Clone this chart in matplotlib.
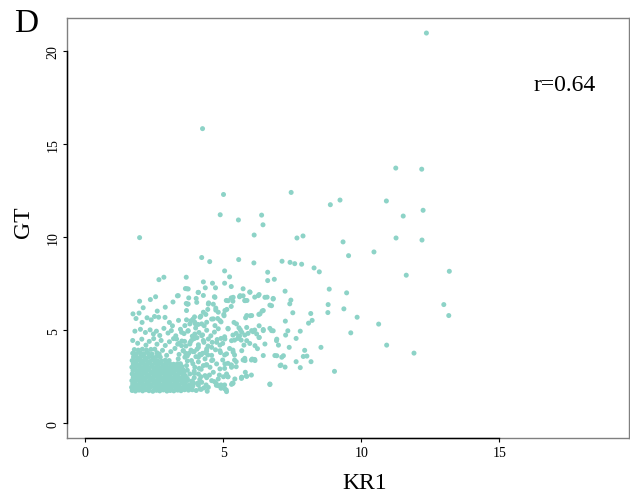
import matplotlib
matplotlib.use('Agg')
import matplotlib.pyplot as plt

# sparse points (outliers, far right / top)
kr1_sparse = [12.36, 4.25, 11.25, 12.19, 5.01, 7.46, 8.88, 9.23, 10.91, 11.52, 12.24, 4.89, 5.55,
              6.39, 6.44, 6.12, 7.67, 7.89, 1.97, 9.34, 11.26, 12.20, 10.46, 9.54, 7.84, 8.29, 8.48,
              11.63, 13.19, 8.84, 9.47, 8.80, 9.37, 12.99, 8.17, 8.79, 9.85, 13.17, 8.22, 8.09, 10.63,
              7.79, 9.62, 8.54, 10.92, 7.95, 7.90, 8.03, 8.18, 7.79, 9.03, 11.91]
gt_sparse = [20.98, 15.84, 13.72, 13.66, 12.30, 12.41, 11.75, 12.00, 11.95, 11.14, 11.45, 11.21, 10.93,
             11.19, 10.67, 10.12, 9.96, 10.07, 9.98, 9.75, 9.96, 9.85, 9.21, 9.01, 8.55, 8.35, 8.14,
             7.96, 8.17, 7.21, 7.01, 6.38, 6.15, 6.38, 5.90, 5.95, 5.70, 5.79, 5.53, 5.38, 5.33,
             4.95, 4.86, 4.08, 4.20, 3.92, 3.59, 3.61, 3.31, 2.99, 2.79, 3.77]

# middle band
kr1_mid = [4.22, 4.51, 5.56, 6.11, 7.13, 7.42, 7.59,
           2.67, 2.85, 3.66, 5.05, 5.23, 4.28, 4.61, 5.05, 6.61, 6.61, 6.85,
           1.97, 2.36, 2.55, 3.18, 3.34, 3.63, 3.68, 4.09, 4.35, 4.72, 3.75, 4.02, 3.70, 3.66,
           4.47, 4.64, 4.68, 4.28,
           5.29, 5.72, 5.96, 7.24, 5.11, 5.29, 5.35, 5.59, 5.72, 5.78, 5.86, 6.14, 6.30, 6.59,
           6.81, 6.69, 7.45, 7.41, 5.13, 5.29, 5.03, 5.39, 5.81, 5.98, 6.29, 6.41, 7.25, 7.52,
           6.30, 6.69, 5.57,
           1.73, 1.95, 1.84, 2.06, 2.24, 2.39, 2.51, 2.61, 2.66, 2.89, 3.05, 3.16, 3.38, 3.67,
           3.83, 3.96, 3.98, 4.19, 4.09, 4.31, 4.37, 4.44, 4.58, 4.73, 4.80, 4.92, 5.02, 2.10,
           2.90, 3.67, 4.73,
           6.45, 6.81, 6.30, 6.94, 7.00, 7.26, 7.34, 7.64, 7.39, 6.94, 7.18, 7.64, 7.09, 7.24,
           6.24, 6.05, 6.14, 5.80, 5.84, 5.67, 5.33, 5.11, 6.69,
           4.92, 5.05, 4.98, 5.17, 5.35, 5.41, 5.47, 5.53, 5.59, 5.65, 5.78, 5.90, 5.96, 6.08,
           6.14, 5.23, 5.35, 5.41, 5.05, 4.98, 5.17, 5.29, 5.41, 5.47, 5.78, 4.86, 5.01, 5.17,
           5.05, 5.35,
           3.64, 3.83, 4.01, 4.25, 4.44, 4.62, 4.38, 4.13, 3.95, 4.19, 4.50, 4.68, 4.38, 4.07,
           3.83, 4.74, 4.92, 5.17, 5.05, 5.29, 5.47, 5.72, 6.02, 5.66, 6.02, 5.35,
           4.42, 4.75, 4.92, 5.12, 5.30, 3.74, 3.88, 4.02, 4.20,
           1.80, 2.00, 2.18, 2.35, 2.47, 2.58, 2.70, 2.85, 3.00, 3.12, 3.28, 3.45, 3.58, 3.72,
           3.88, 4.00, 4.12, 4.25, 4.40, 4.55, 4.68, 4.82, 5.62, 5.85,
           1.72, 1.90, 2.05, 2.20, 2.32, 2.48, 2.60, 2.75, 2.90, 3.05, 3.20, 3.35, 3.50, 3.65,
           3.80, 3.95, 4.10, 4.28, 4.45, 4.60, 4.78, 4.88, 5.75, 6.30,
           2.52, 2.68, 2.80, 2.95, 3.10, 3.25, 3.40, 3.55, 3.70, 3.90, 4.05, 4.20, 4.40, 4.58,
           4.72, 4.90,
           3.58, 3.55, 3.50, 3.34, 3.62]
gt_mid = [8.91, 8.69, 8.80, 8.62, 8.71, 8.65, 8.58,
          7.72, 7.85, 7.85, 8.19, 7.87, 7.60, 7.53, 7.53, 8.12, 7.67, 7.74,
          6.56, 6.65, 6.80, 6.52, 6.85, 7.24, 7.23, 7.03, 7.28, 7.28, 6.74, 6.71, 6.40, 6.44,
          6.47, 6.40, 6.80, 6.87,
          7.35, 7.23, 7.06, 7.10, 6.60, 6.74, 6.56, 6.80, 6.85, 6.60, 6.60, 6.78, 6.92, 6.78,
          6.71, 6.35, 6.62, 6.42, 6.12, 6.28, 5.78, 5.42, 5.67, 5.78, 5.85, 6.03, 5.49, 5.94,
          5.24, 5.10, 5.13,
          5.88, 5.92, 5.63, 5.42, 5.67, 5.56, 5.74, 6.03, 5.70, 5.69, 5.42, 5.24, 5.53, 5.56,
          5.51, 5.72, 5.36, 5.76, 5.31, 5.24, 5.85, 6.12, 5.60, 6.08, 5.63, 5.45, 5.85, 6.21,
          6.24, 6.06, 6.19,
          5.04, 4.97, 4.61, 4.52, 4.20, 4.74, 4.97, 4.56, 4.08, 3.63, 3.63, 3.31, 3.13, 3.02,
          4.01, 3.45, 3.43, 2.74, 2.54, 2.47, 2.15, 1.79, 2.11,
          4.56, 4.65, 4.29, 5.10, 4.74, 4.47, 4.83, 4.56, 4.69, 4.47, 4.74, 4.83, 4.29, 4.92,
          5.01, 4.02, 3.93, 3.67, 3.67, 3.40, 3.22, 3.13, 3.40, 3.04, 3.49, 2.59, 2.50, 2.50,
          2.06, 2.15,
          3.76, 3.93, 3.58, 3.76, 3.67, 3.40, 3.13, 2.95, 2.68, 2.50, 2.59, 2.24, 2.06, 2.15,
          1.97, 2.15, 2.06, 2.50, 2.95, 3.13, 3.31, 3.40, 3.40, 2.41, 2.59, 2.15,
          1.72, 2.04, 1.88, 1.70, 2.09, 1.78, 1.80, 1.76, 1.82,
          4.95, 5.05, 4.88, 5.02, 4.80, 4.95, 4.72, 5.10, 4.85, 4.98, 4.70, 5.05, 4.82, 4.95,
          4.68, 5.12, 4.88, 4.75, 5.00, 4.70, 4.90, 5.08, 5.02, 5.15,
          4.45, 4.30, 4.52, 4.20, 4.40, 4.55, 4.25, 4.45, 4.18, 4.38, 4.55, 4.25, 4.42, 4.15,
          4.35, 4.55, 4.22, 4.45, 4.15, 4.35, 4.50, 4.20, 4.20, 4.61,
          3.98, 3.72, 3.92, 3.65, 3.85, 4.02, 3.70, 3.90, 3.62, 3.85, 3.98, 3.68, 3.88, 3.65,
          3.95, 3.80,
          2.70, 2.88, 3.05, 3.20, 2.55]

# second dense patch, right of the core (x 3.3 - 7, y 1.8 - 7)
kr1_patch = [3.37, 3.73, 4.10, 4.70, 4.46, 4.04, 3.73, 5.18, 5.36, 5.61, 5.79, 5.97, 6.27, 6.51,
             6.81, 6.75, 5.85, 6.03, 6.33, 6.45, 5.06, 4.82, 4.64, 4.28, 4.16, 3.91, 3.79, 3.61,
             3.97, 4.22, 4.40, 4.70, 4.88, 5.18, 5.48, 5.67, 6.03, 6.21, 6.45, 6.75, 6.93, 6.51,
             6.15, 5.85, 5.55, 5.30, 5.06, 4.76, 4.46, 4.22, 3.97, 3.73, 3.49, 3.31, 3.49, 3.79,
             4.10, 4.40, 4.58, 4.88, 5.12, 5.36, 5.67, 5.79, 6.15, 6.87, 7.12, 7.06, 6.45,
             3.37, 3.61, 3.85, 4.10, 4.34, 4.58, 4.76, 4.52, 4.28, 3.97, 3.67, 3.43, 3.31, 3.55,
             3.79, 4.10, 4.34, 4.64, 4.88, 5.06, 5.30, 5.12, 4.82, 4.58, 4.22, 3.91, 3.61, 3.37,
             3.49, 3.79, 4.16, 4.46, 4.82, 5.06, 5.42, 5.67, 5.85, 6.69,
             3.40, 3.60, 3.85, 4.05, 4.30, 3.55, 3.75, 3.95, 4.15, 4.35, 3.45, 3.70, 3.90, 4.10,
             4.40, 3.50, 3.70, 3.95, 4.20, 3.45, 3.70, 3.95, 4.15, 4.40, 3.60, 3.90, 4.10, 4.30]
gt_patch = [6.86, 7.22, 7.04, 6.77, 6.41, 6.50, 6.41, 6.59, 6.77, 6.86, 6.59, 7.04, 6.86, 6.77,
            6.68, 6.32, 5.79, 5.79, 5.88, 6.06, 6.06, 5.97, 5.61, 5.97, 5.70, 5.61, 5.34, 5.25,
            5.43, 5.34, 5.43, 5.25, 5.52, 5.07, 5.34, 4.89, 4.98, 4.80, 4.98, 4.98, 4.44, 4.26,
            4.17, 4.44, 4.62, 4.44, 4.53, 4.35, 4.53, 4.71, 4.80, 4.98, 4.89, 4.53, 4.17, 4.26,
            4.08, 3.99, 4.08, 3.90, 3.73, 3.82, 3.90, 3.37, 3.37, 3.64, 3.55, 3.10, 3.64,
            3.46, 3.55, 3.37, 3.55, 3.46, 3.37, 3.19, 3.01, 3.10, 3.01, 3.10, 2.92, 2.56, 2.56,
            2.65, 2.65, 2.56, 2.74, 2.92, 3.19, 3.01, 2.65, 2.38, 2.29, 2.20, 2.20, 2.11, 2.02,
            1.84, 1.84, 1.84, 1.93, 2.02, 1.84, 2.38, 2.47, 2.52, 2.08,
            4.30, 4.40, 4.45, 4.60, 4.35, 3.90, 3.75, 3.85, 3.70, 3.80, 3.20, 3.35, 3.20, 3.30,
            3.15, 2.75, 2.85, 2.80, 2.90, 2.30, 2.40, 2.45, 2.35, 2.45, 1.95, 2.00, 2.05, 1.90]

# dense core, bottom left
kr1_core = [1.70, 1.82, 1.95, 2.08, 2.19, 2.31, 2.45, 2.58, 2.70, 2.83, 2.96, 3.08, 3.21, 3.35, 3.47, 3.60,
            1.68, 1.78, 1.90, 2.02, 2.14, 2.27, 2.39, 2.52, 2.63, 2.77, 2.90, 3.02, 3.15, 3.28, 3.41, 3.55, 3.68, 3.82,
            1.72, 1.85, 1.97, 2.09, 2.22, 2.35, 2.47, 2.60, 2.72, 2.85, 2.98, 3.11, 3.24, 3.37, 3.50, 3.63, 3.78, 3.92,
            1.69, 1.80, 1.93, 2.05, 2.18, 2.30, 2.43, 2.55, 2.68, 2.80, 2.93, 3.06, 3.19, 3.31, 3.45, 3.58, 3.71, 3.86,
            1.74, 1.87, 1.99, 2.11, 2.24, 2.37, 2.49, 2.62, 2.75, 2.88, 3.00, 3.13, 3.26, 3.40, 3.53, 3.66,
            1.70, 1.83, 1.95, 2.07, 2.20, 2.33, 2.45, 2.57, 2.70, 2.83, 2.95, 3.09, 3.22, 3.35, 3.49,
            1.73, 1.86, 1.98, 2.11, 2.23, 2.36, 2.50, 2.63, 2.76, 2.89, 3.02, 3.15, 3.29, 3.42,
            1.69, 1.81, 1.94, 2.06, 2.19, 2.32, 2.44, 2.57, 2.71, 2.84, 2.97, 3.10, 3.24, 3.37,
            1.74, 1.88, 2.01, 2.14, 2.27, 2.40, 2.53, 2.66, 2.80, 2.93, 3.07, 3.20,
            1.70, 1.83, 1.96, 2.09, 2.22, 2.36, 2.49, 2.62, 2.76, 2.90, 3.04,
            1.75, 1.89, 2.02, 2.16, 2.30, 2.44, 2.58, 2.72,
            1.72, 1.85, 1.99, 2.13, 2.28, 2.42, 2.60,
            1.78, 1.92, 2.07, 2.22, 2.38]
gt_core = [1.76, 1.73, 1.78, 1.74, 1.80, 1.75, 1.72, 1.77, 1.74, 1.79, 1.73, 1.76, 1.74, 1.78, 1.75, 1.80,
           1.93, 1.90, 1.95, 1.91, 1.94, 1.89, 1.96, 1.92, 1.90, 1.95, 1.93, 1.91, 1.96, 1.90, 1.94, 1.92, 1.95, 1.91,
           2.11, 2.08, 2.13, 2.09, 2.12, 2.07, 2.14, 2.10, 2.08, 2.13, 2.11, 2.09, 2.12, 2.08, 2.14, 2.10, 2.07, 2.12,
           2.29, 2.26, 2.31, 2.27, 2.30, 2.25, 2.32, 2.28, 2.26, 2.31, 2.29, 2.27, 2.30, 2.26, 2.32, 2.28, 2.30, 2.27,
           2.47, 2.44, 2.49, 2.45, 2.48, 2.43, 2.50, 2.46, 2.44, 2.49, 2.47, 2.45, 2.48, 2.44, 2.50, 2.46,
           2.65, 2.62, 2.67, 2.63, 2.66, 2.61, 2.68, 2.64, 2.62, 2.67, 2.65, 2.63, 2.66, 2.62, 2.68,
           2.83, 2.80, 2.85, 2.81, 2.84, 2.79, 2.86, 2.82, 2.80, 2.85, 2.83, 2.81, 2.84, 2.80,
           3.01, 2.98, 3.03, 2.99, 3.02, 2.97, 3.04, 3.00, 2.98, 3.03, 3.01, 2.99, 3.02, 2.98,
           3.19, 3.16, 3.21, 3.17, 3.20, 3.15, 3.22, 3.18, 3.16, 3.21, 3.19, 3.17,
           3.37, 3.34, 3.39, 3.35, 3.38, 3.33, 3.40, 3.36, 3.34, 3.39, 3.37,
           3.56, 3.53, 3.58, 3.54, 3.57, 3.52, 3.59, 3.55,
           3.76, 3.73, 3.78, 3.74, 3.77, 3.72, 3.79,
           3.96, 3.93, 3.98, 3.94, 3.97]

kr1 = kr1_core + kr1_patch + kr1_mid + kr1_sparse
gt = gt_core + gt_patch + gt_mid + gt_sparse

xticks = [0, 5, 10, 15]
yticks = [0, 5, 10, 15, 20]
r_text = 'r=0.64'

plt.rcParams['font.family'] = ['Liberation Serif', 'DejaVu Serif']

fig = plt.figure(figsize=(6.3, 5.02), dpi=100)
ax = fig.add_axes([0.1059, 0.1249, 0.8930, 0.8373])

ax.scatter(kr1, gt, s=13, color='#8DD3C7', edgecolors='none', zorder=3)

ax.set_xlim(-0.67, 19.71)
ax.set_ylim(-0.81, 21.79)

for s in ax.spines.values():
    s.set_color('#808080')
    s.set_linewidth(1.0)

# R style axis lines only over the tick range
ax.plot([0, 15], [0, 0], transform=ax.get_xaxis_transform(), color='black',
        lw=1.0, clip_on=False, zorder=5)
ax.plot([0, 0], [0, 20], transform=ax.get_yaxis_transform(), color='black',
        lw=1.0, clip_on=False, zorder=5)

ax.set_xticks(xticks)
ax.set_yticks(yticks)
ax.set_xticklabels([str(t) for t in xticks])
ax.set_yticklabels([str(t) for t in yticks], rotation=90, va='center')
ax.tick_params(direction='out', length=3, width=0.8, labelsize=10, pad=2.5, colors='black')
ax.tick_params(axis='y', pad=2)

ax.text(17.36, 18.19, r_text, fontsize=17, ha='center', va='center')

fig.text(365 / 630, 1 - 484 / 502, 'KR1', fontsize=17, ha='center', va='center')
fig.text(24 / 630, 1 - 222 / 502, 'GT', fontsize=17, ha='center', va='center', rotation=90)
fig.text(26 / 630, 1 - 24 / 502, 'D', fontsize=24, ha='center', va='center')

fig.savefig('out.png', dpi=100)
